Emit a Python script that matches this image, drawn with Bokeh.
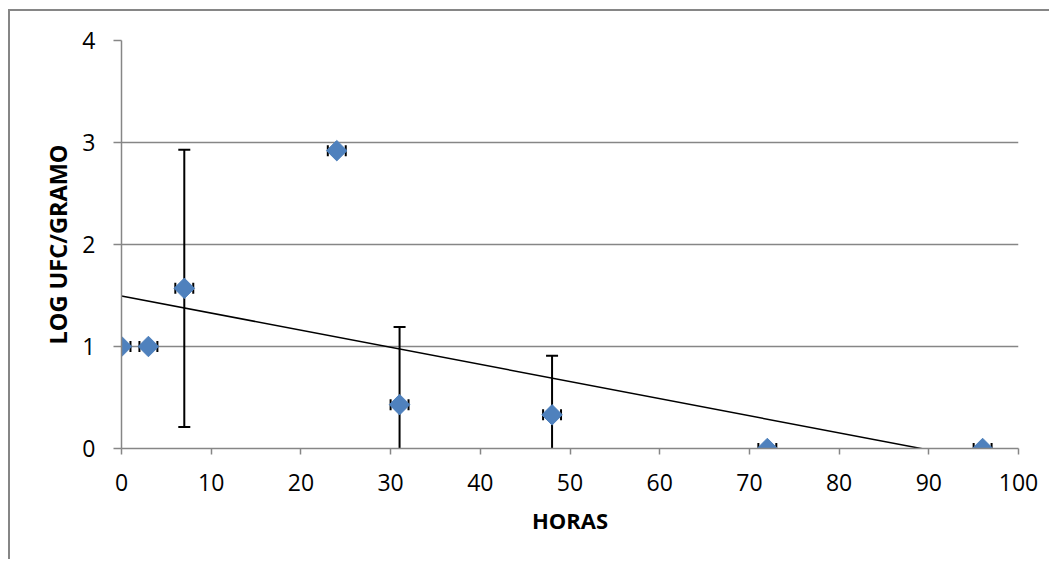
import numpy as np
from bokeh.plotting import figure
from bokeh.models import FixedTicker, Range1d
from bokeh.embed import file_html
from bokeh.resources import INLINE

# Data
horas = [0, 3, 7, 24, 31, 48, 72, 96]
log_ufc = [1.0, 1.0, 1.57, 2.92, 0.43, 0.33, 0.0, 0.0]
err_y = [0.0, 0.0, 1.36, 0.0, 0.76, 0.58, 0.0, 0.0]
err_x = [1, 1, 1, 1, 1, 1, 1, 1]
x_ticks = [0, 10, 20, 30, 40, 50, 60, 70, 80, 90, 100]
y_ticks = [0, 1, 2, 3, 4]

FONT = "Open Sans"
GRAY = "#868686"
BLUE = "#4F81BD"

p = figure(width=1041, height=550, output_backend="svg", toolbar_location=None,
           x_range=Range1d(0, 100), y_range=Range1d(0, 4), margin=(9, 0, 0, 8),
           min_border_left=111, min_border_right=33, min_border_top=29, min_border_bottom=113)
p.styles = {
    "border-left-width": "2px", "border-left-style": "solid", "border-left-color": GRAY,
    "border-top-width": "2px", "border-top-style": "solid", "border-top-color": GRAY,
    "border-right-width": "0px", "border-right-style": "none",
    "border-bottom-width": "0px", "border-bottom-style": "none",
}
p.outline_line_color = None
p.background_fill_color = "white"
p.border_fill_color = "white"

p.xgrid.visible = False
p.ygrid.ticker = FixedTicker(ticks=y_ticks)
p.ygrid.grid_line_color = GRAY
p.ygrid.grid_line_width = 1.5

for ax in (p.xaxis[0], p.yaxis[0]):
    ax.axis_line_color = GRAY
    ax.axis_line_width = 1.5
    ax.major_tick_line_color = GRAY
    ax.major_tick_line_width = 1.5
    ax.major_tick_in = 0
    ax.minor_tick_line_color = None
    ax.major_label_text_font = FONT
    ax.major_label_text_font_size = "23px"
    ax.major_label_text_color = "black"
    ax.axis_label_text_font = FONT
    ax.axis_label_text_font_style = "bold"
    ax.axis_label_text_color = "black"

p.xaxis.axis_label_text_font_size = "22px"
p.yaxis.axis_label_text_font_size = "23.5px"
p.xaxis.ticker = FixedTicker(ticks=x_ticks)
p.yaxis.ticker = FixedTicker(ticks=y_ticks)
p.xaxis.major_tick_out = 6
p.yaxis.major_tick_out = 8
p.xaxis.major_label_standoff = 19
p.yaxis.major_label_standoff = 18
p.xaxis.axis_label = "HORAS"
p.xaxis.axis_label_standoff = 11
p.yaxis.axis_label = "LOG UFC/GRAMO"
p.yaxis.axis_label_standoff = 5

# Linear trend line (least squares fit of the data)
slope, intercept = np.polyfit(horas, log_ufc, 1)
tx = np.array([min(horas), max(horas)], dtype=float)
p.line(tx, intercept + slope * tx, line_color="black", line_width=1.5)

# Error bars
x = np.array(horas, dtype=float)
y = np.array(log_ufc, dtype=float)
ey = np.array(err_y, dtype=float)
ex = np.array(err_x, dtype=float)
has = ey > 0
p.segment(x[has], y[has] - ey[has], x[has], y[has] + ey[has], line_color="black", line_width=2)
p.scatter(np.concatenate([x[has], x[has]]), np.concatenate([y[has] - ey[has], y[has] + ey[has]]),
          marker="dash", size=12, line_color="black", line_width=2)
p.segment(x - ex, y, x + ex, y, line_color="black", line_width=2)
p.scatter(np.concatenate([x - ex, x + ex]), np.concatenate([y, y]),
          marker="dash", size=11, angle=np.pi / 2, line_color="black", line_width=2)

# Data markers
p.scatter(horas, log_ufc, marker="square", size=14.5, angle=np.pi / 4,
          fill_color=BLUE, line_color=BLUE, line_width=1)

open("out.html", "w").write(file_html(p, INLINE))
